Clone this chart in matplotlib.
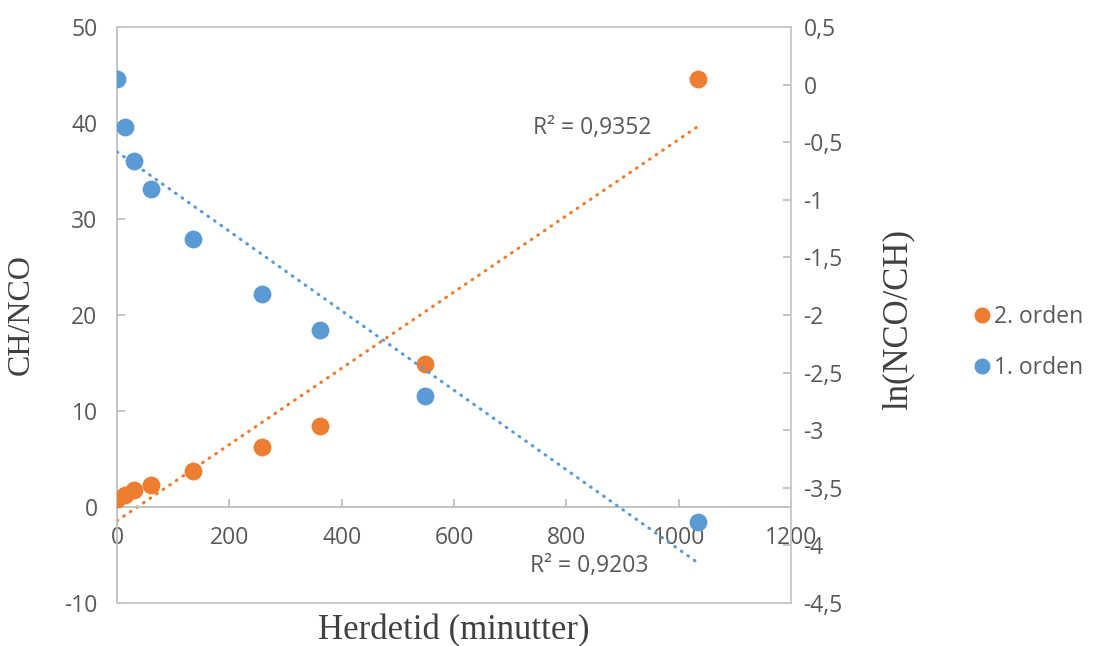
import numpy as np
import matplotlib.pyplot as plt
from matplotlib.ticker import FuncFormatter, MultipleLocator
from matplotlib.lines import Line2D

plt.rcParams['axes.unicode_minus'] = False

# herdetid i minutter
t = np.array([0, 14, 30, 61, 136, 258, 362, 548, 1034])
# CH/NCO (2. orden, venstre akse)
orden2 = np.array([0.8, 1.3, 1.8, 2.3, 3.8, 6.2, 8.4, 14.9, 44.6])
# ln(NCO/CH) (1. orden, hoyre akse)
orden1 = np.array([0.05, -0.37, -0.66, -0.91, -1.34, -1.82, -2.13, -2.70, -3.80])

r2_orden2 = "R² = 0,9352"
r2_orden1 = "R² = 0,9203"

ORANGE = '#ED7D31'
BLUE = '#5B9BD5'
GREY = '#595959'
FRAME = '#C8C8C8'
TICKFONT = 'Open Sans'
LABELFONT = 'Liberation Serif'
FS = 16.5


def comma(x, pos):
    if abs(x - round(x)) < 1e-9:
        return str(int(round(x)))
    return f"{x:g}".replace('.', ',')


fig = plt.figure(figsize=(10.94, 6.46), dpi=100)
ax = fig.add_axes([0.107, 0.0666, 0.616, 0.8916])
ax2 = ax.twinx()

# punkter
ax.scatter(t, orden2, s=165, color=ORANGE, zorder=3, linewidths=0)
ax2.scatter(t, orden1, s=165, color=BLUE, zorder=3, linewidths=0)

# lineaere trendlinjer
xs = np.array([0, t.max()])
k2, m2 = np.polyfit(t, orden2, 1)
k1, m1 = np.polyfit(t, orden1, 1)
dots = (0, (0.3, 2.3))
ax.plot(xs, k2 * xs + m2, color=ORANGE, lw=2.2, linestyle=dots,
        dash_capstyle='round', zorder=2)
ax2.plot(xs, k1 * xs + m1, color=BLUE, lw=2.2, linestyle=dots,
         dash_capstyle='round', zorder=2)

ax.text(740, 39.5, r2_orden2, color=GREY, fontsize=FS, family=TICKFONT,
        va='center', ha='left')
ax.text(735, -6.2, r2_orden1, color=GREY, fontsize=FS, family=TICKFONT,
        va='center', ha='left')

ax.set_xlim(0, 1200)
ax.set_ylim(-10, 50)
ax2.set_ylim(-4.5, 0.5)
ax.xaxis.set_major_locator(MultipleLocator(200))
ax.yaxis.set_major_locator(MultipleLocator(10))
ax2.yaxis.set_major_locator(MultipleLocator(0.5))
ax.xaxis.set_major_formatter(FuncFormatter(comma))
ax.yaxis.set_major_formatter(FuncFormatter(comma))
ax2.yaxis.set_major_formatter(FuncFormatter(comma))

# x-aksen ligger ved y = 0, rammen rundt tegnes av ax2
ax.spines['bottom'].set_position(('data', 0))
ax.spines['top'].set_visible(False)
ax.spines['right'].set_visible(False)
for s in ax.spines.values():
    s.set_color('#BFBFBF')
    s.set_linewidth(1.3)
for s in ax2.spines.values():
    s.set_color(FRAME)
    s.set_linewidth(1.3)
ax2.spines['left'].set_visible(False)

ax.tick_params(axis='x', direction='in', length=6, width=1.3, color='#BFBFBF',
               labelcolor=GREY, labelsize=FS, pad=14)
ax.tick_params(axis='y', direction='in', length=6, width=1.3, color='#BFBFBF',
               labelcolor=GREY, labelsize=FS, pad=14)
ax2.tick_params(axis='y', direction='in', length=6, width=1.3, color='#BFBFBF',
                labelcolor=GREY, labelsize=FS, pad=9)
for lab in ax.get_xticklabels() + ax.get_yticklabels() + ax2.get_yticklabels():
    lab.set_family(TICKFONT)

ax.set_xlabel('Herdetid (minutter)', family=LABELFONT, fontsize=25,
              color='#404040')
ax.xaxis.set_label_coords(0.5, -0.02)
ax.set_ylabel('CH/NCO', family=LABELFONT, fontsize=23, color='#404040')
ax.yaxis.set_label_coords(-0.12, 0.5)
ax2.set_ylabel('ln(NCO/CH)', family=LABELFONT, fontsize=25, color='#404040',
               rotation=90)
ax2.yaxis.set_label_coords(1.135, 0.493)

handles = [
    Line2D([], [], marker='o', color=ORANGE, linestyle='none', markersize=10.5),
    Line2D([], [], marker='o', color=BLUE, linestyle='none', markersize=10.5),
]
fig.legend(handles, ['2. orden', '1. orden'], loc='center left',
           bbox_to_anchor=(0.868, 0.47), frameon=False, handletextpad=0.05,
           labelspacing=1.2, prop={'family': TICKFONT, 'size': FS},
           labelcolor=GREY, handlelength=1.0)

fig.savefig('out.png', dpi=100, facecolor='white')
